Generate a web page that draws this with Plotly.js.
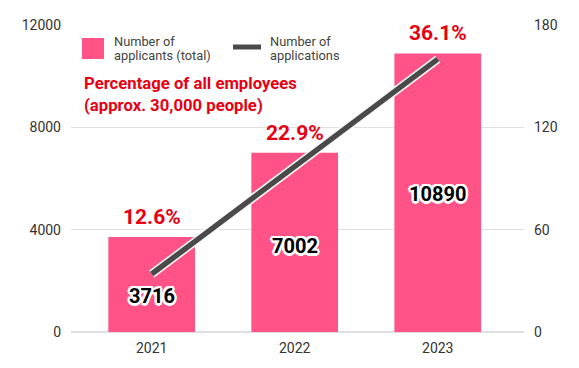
<!DOCTYPE html>
<html>
<head>
<meta charset="utf-8">
<script src="https://cdn.plot.ly/plotly-3.0.1.min.js"></script>
<style>
  html, body { margin: 0; padding: 0; background: #fff; }
  #chart { width: 579px; height: 368px; }
</style>
</head>
<body>
<div id="chart"></div>
<script>
// ---- data ----
const years = ['2021', '2022', '2023'];
const applicants = [3716, 7002, 10890];          // bars, left axis
const applications = [34, 97, 160];              // line, right axis
const percentOfEmployees = [12.6, 22.9, 36.1];   // labels above bars
const leftTicks = [0, 4000, 8000, 12000];
const rightTicks = [0, 60, 120, 180];

// ---- styles / layout helpers ----
const PINK = '#FF5287';
const RED = '#E60012';
const LINE = '#4a4a4a';
const FONT = 'Roboto, Arial, sans-serif';
const M = { l: 71, r: 55, t: 25, b: 36 };
const W = 579, H = 368;
const PW = W - M.l - M.r, PH = H - M.t - M.b;
const px = x => (x - M.l) / PW;
const py = y => (H - M.b - y) / PH;
const valueLabelShift = [-12, -4, -1];
const outline = '2.5px 0 0 #fff, -2.5px 0 0 #fff, 0 2.5px 0 #fff, 0 -2.5px 0 #fff, 1.8px 1.8px 0 #fff, -1.8px -1.8px 0 #fff, 1.8px -1.8px 0 #fff, -1.8px 1.8px 0 #fff';

const traces = [
  {
    type: 'bar', x: years, y: applicants, yaxis: 'y',
    marker: { color: PINK }, width: 0.606,
    name: 'Number of applicants (total)', showlegend: false, hoverinfo: 'skip'
  },
  {
    type: 'scatter', mode: 'lines', x: years, y: applications, yaxis: 'y2',
    line: { color: '#ffffff', width: 8.5 }, showlegend: false, hoverinfo: 'skip'
  },
  {
    type: 'scatter', mode: 'lines', x: years, y: applications, yaxis: 'y2',
    line: { color: LINE, width: 5.5 }, name: 'Number of applications',
    showlegend: false, hoverinfo: 'skip'
  }
];

const annotations = [];
years.forEach((yr, i) => {
  annotations.push({
    x: i, y: applicants[i] / 2, xref: 'x', yref: 'y',
    text: '<b>' + String(applicants[i]) + '</b>', showarrow: false,
    xanchor: 'center', yanchor: 'middle', yshift: valueLabelShift[i],
    font: { family: FONT, size: 20, color: '#000', shadow: outline }
  });
  annotations.push({
    x: i, y: applicants[i], xref: 'x', yref: 'y',
    text: '<b>' + percentOfEmployees[i].toFixed(1) + '%</b>', showarrow: false,
    xanchor: 'center', yanchor: 'middle', yshift: 20,
    font: { family: FONT, size: 21, color: RED }
  });
});

// custom legend text
const legFont = { family: FONT, size: 12.8, color: '#444' };
[['Number of', 41.5], ['applicants (total)', 55.5]].forEach(([t, y]) => {
  annotations.push({ xref: 'paper', yref: 'paper', x: px(112), y: py(y), text: t,
    showarrow: false, xanchor: 'left', yanchor: 'middle', font: legFont });
});
[['Number of', 41.5], ['applications', 55.5]].forEach(([t, y]) => {
  annotations.push({ xref: 'paper', yref: 'paper', x: px(268), y: py(y), text: t,
    showarrow: false, xanchor: 'left', yanchor: 'middle', font: legFont });
});
annotations.push({
  xref: 'paper', yref: 'paper', x: px(82), y: py(72),
  text: '<b>Percentage of all employees<br>(approx. 30,000 people)</b>',
  showarrow: false, xanchor: 'left', yanchor: 'top', align: 'left',
  font: { family: FONT, size: 16.7, color: RED }
});

const shapes = [
  { type: 'rect', xref: 'paper', yref: 'paper', x0: px(82), x1: px(104), y0: py(38), y1: py(59),
    fillcolor: PINK, line: { width: 0 } },
  { type: 'line', xref: 'paper', yref: 'paper', x0: px(233), x1: px(261), y0: py(47), y1: py(47),
    line: { color: LINE, width: 5 } }
];

const layout = {
  width: W, height: H,
  margin: M,
  paper_bgcolor: '#fff', plot_bgcolor: '#fff',
  showlegend: false,
  font: { family: FONT, size: 14, color: '#333' },
  bargap: 0.4,
  xaxis: {
    type: 'category', range: [-0.564, 2.603], showgrid: false, zeroline: false,
    showline: false, ticks: '', ticklabelstandoff: 6, fixedrange: true,
    tickfont: { family: FONT, size: 14, color: '#333' }
  },
  yaxis: {
    range: [0, 12000], tickvals: leftTicks, ticktext: leftTicks.map(String),
    showgrid: true, gridcolor: '#e0e0e0', gridwidth: 1.5,
    zeroline: true, zerolinecolor: '#e0e0e0', zerolinewidth: 1.5,
    showline: false, ticks: '', ticklabelstandoff: 9,
    tickfont: { family: FONT, size: 14, color: '#333' }
  },
  yaxis2: {
    range: [0, 180], tickvals: rightTicks, ticktext: rightTicks.map(String),
    overlaying: 'y', side: 'right', showgrid: false, zeroline: false,
    showline: false, ticks: '', ticklabelstandoff: 9,
    tickfont: { family: FONT, size: 14, color: '#333' }
  },
  annotations: annotations,
  shapes: shapes
};

Plotly.newPlot('chart', traces, layout, { staticPlot: true, displayModeBar: false });
</script>
</body>
</html>
